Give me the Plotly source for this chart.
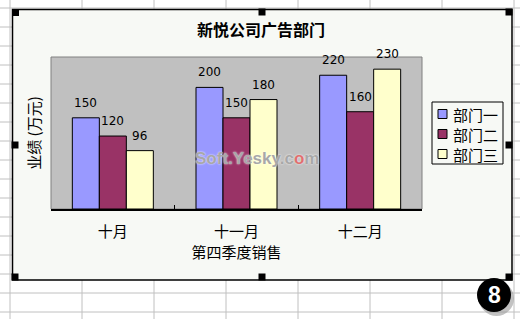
import plotly.graph_objects as go

categories = ["十月", "十一月", "十二月"]
series_names = ["部门一", "部门二", "部门三"]
dept1 = [150, 200, 220]
dept2 = [120, 150, 160]
dept3 = [96, 180, 230]
series_values = [dept1, dept2, dept3]
colors = ["#9999FF", "#993366", "#FFFFCC"]

W, H = 520, 319
L, R, T, B = 51, 422, 57, 209  # plot area in pixels
BARGAP = 0.345
CJK = "Noto Sans CJK SC"


def px(x):
    return (x - L) / (R - L)


def py(y):
    return (B - y) / (B - T)


fig = go.Figure()
for name, vals, col in zip(series_names, series_values, colors):
    fig.add_trace(go.Bar(
        x=categories, y=vals, name=name, showlegend=False,
        marker=dict(color=col, line=dict(color="black", width=1)),
    ))

shapes = []
# spreadsheet grid
for gx in range(10, W + 1, 72):
    shapes.append(dict(type="line", xref="paper", yref="paper", layer="below",
                       x0=px(gx), x1=px(gx), y0=py(0), y1=py(H),
                       line=dict(color="#C0C0C0", width=1)))
for gy in range(8, H + 1, 19):
    shapes.append(dict(type="line", xref="paper", yref="paper", layer="below",
                       x0=px(0), x1=px(W), y0=py(gy), y1=py(gy),
                       line=dict(color="#C0C0C0", width=1)))
# chart area
shapes.append(dict(type="rect", xref="paper", yref="paper", layer="below",
                   x0=px(12.5), x1=px(512), y0=py(9.5), y1=py(280),
                   fillcolor="#F7F9F5", line=dict(color="black", width=1.5)))
# plot area
shapes.append(dict(type="rect", xref="paper", yref="paper", layer="below",
                   x0=0, x1=1, y0=0, y1=1,
                   fillcolor="#C0C0C0", line=dict(color="#808080", width=1)))
# legend box & swatches
shapes.append(dict(type="rect", xref="paper", yref="paper",
                   x0=px(432), x1=px(503), y0=py(102), y1=py(164),
                   fillcolor="#F7F9F5", line=dict(color="black", width=1)))
annotations = []
for i, (name, col) in enumerate(zip(series_names, colors)):
    cy = 114 + 20 * i
    shapes.append(dict(type="rect", xref="paper", yref="paper",
                       x0=px(438), x1=px(447), y0=py(cy - 4.5), y1=py(cy + 4.5),
                       fillcolor=col, line=dict(color="black", width=1)))
    annotations.append(dict(xref="paper", yref="paper", x=px(451), y=py(cy),
                            xanchor="left", yanchor="middle", showarrow=False,
                            text=name, font=dict(family=CJK, size=15, color="black")))
# selection handles
for hx, hy in [(15.5, 12.5), (262, 12), (509, 12), (15, 145), (509, 145),
               (15, 277), (262, 277), (509, 277)]:
    shapes.append(dict(type="rect", xref="paper", yref="paper",
                       x0=px(hx - 3.5), x1=px(hx + 3.5), y0=py(hy - 3.5), y1=py(hy + 3.5),
                       fillcolor="black", line=dict(width=0)))
# "8" badge
shapes.append(dict(type="circle", xref="paper", yref="paper",
                   x0=px(479), x1=px(514), y0=py(281), y1=py(316),
                   fillcolor="#9A9A9A", line=dict(width=0), opacity=0.6))
shapes.append(dict(type="circle", xref="paper", yref="paper",
                   x0=px(477), x1=px(511), y0=py(278), y1=py(312),
                   fillcolor="black", line=dict(width=0)))
annotations.append(dict(xref="paper", yref="paper", x=px(494), y=py(295),
                        xanchor="center", yanchor="middle", showarrow=False,
                        text="<b>8</b>",
                        font=dict(family="Liberation Sans", size=23, color="white")))

# data labels
w = (1 - BARGAP) / 3
for k, vals in enumerate(series_values):
    for i, v in enumerate(vals):
        annotations.append(dict(xref="x", yref="y", x=i + (k - 1) * w, y=v,
                                xanchor="center", yanchor="bottom", yshift=6,
                                showarrow=False, text=str(v),
                                font=dict(family="DejaVu Sans", size=12, color="black")))

# watermark
annotations.append(dict(xref="paper", yref="paper", x=px(257), y=py(158),
                        xanchor="center", yanchor="middle", showarrow=False,
                        text="<b>Soft.Yesky.c<span style='color:#E07070'>o</span>m</b>",
                        font=dict(family="Liberation Sans", size=17, color="#A8A8A8",
                                  shadow="0px 0px 2px white")))

fig.update_layout(
    width=W, height=H,
    margin=dict(l=L, r=W - R, t=T, b=H - B, pad=0),
    paper_bgcolor="white",
    plot_bgcolor="rgba(0,0,0,0)",
    barmode="group", bargap=BARGAP, bargroupgap=0,
    title=dict(text="<b>新悦公司广告部门</b>", x=261 / W, xanchor="center",
               xref="container", yref="container", y=1 - 30 / H, yanchor="middle",
               font=dict(family=CJK, size=16, color="black")),
    xaxis=dict(showline=True, linecolor="black", linewidth=1.5,
               ticks="inside", tickson="boundaries", ticklen=4, tickcolor="black",
               showgrid=False, ticklabelstandoff=8,
               tickfont=dict(family=CJK, size=15, color="black"),
               title=dict(text="第四季度销售", standoff=5,
                          font=dict(family=CJK, size=15, color="black"))),
    yaxis=dict(range=[0, 250], showticklabels=False, showgrid=False, zeroline=False,
               showline=False, ticks="",
               title=dict(text="业绩 (万元)", standoff=5,
                          font=dict(family=CJK, size=15, color="black"))),
    shapes=shapes,
    annotations=annotations,
)

fig.write_html("out.html")
